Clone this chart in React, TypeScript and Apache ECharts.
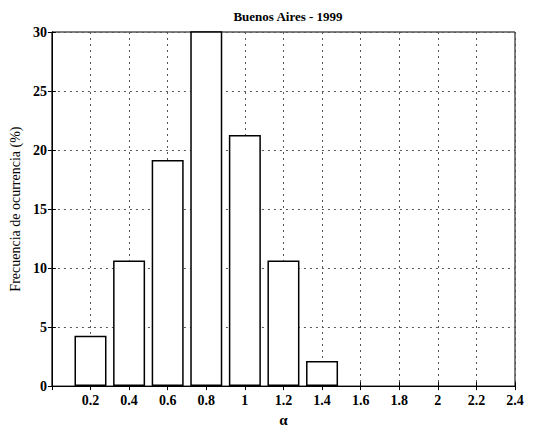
import React, { useEffect, useRef } from "react";
import * as echarts from "echarts";

const titleText = "Buenos Aires - 1999";
const yName = "Frecuencia de ocurrencia (%)";
const xName = "α";
const alphaCenters = [0.2, 0.4, 0.6, 0.8, 1.0, 1.2, 1.4];
const frequencies = [4.26, 10.64, 19.15, 31.91, 21.28, 10.64, 2.13];

const FONT = "Liberation Serif";

export default function App() {
  const ref = useRef<HTMLDivElement>(null);
  useEffect(() => {
    document.body.style.margin = "0";
    if (!ref.current) return;
    const chart = echarts.init(ref.current, undefined, { renderer: "svg" });
    const gridLine = { show: true, lineStyle: { color: "#555", type: [2, 4] as any, width: 1 } };
    const labelStyle = { color: "#000", fontFamily: FONT, fontSize: 14, fontWeight: "bold" as const };
    chart.setOption({
      animation: false,
      backgroundColor: "#fff",
      title: {
        text: titleText,
        left: 283,
        textAlign: "center",
        top: 5,
        textStyle: { fontFamily: FONT, fontSize: 13, fontWeight: "bold", color: "#000" },
      },
      grid: {
        left: 48,
        right: 19,
        top: 32,
        bottom: 38,
        show: true,
        borderColor: "#000",
        borderWidth: 1,
        backgroundColor: "transparent",
      },
      xAxis: [
        {
          type: "value",
          min: 0,
          max: 2.4,
          interval: 0.2,
          name: xName,
          nameLocation: "middle",
          nameGap: 23,
          nameTextStyle: { ...labelStyle, fontSize: 15 },
          axisLine: { show: true, onZero: false, lineStyle: { color: "#000" } },
          axisTick: { show: true, inside: true, length: 4, lineStyle: { color: "#000" } },
          axisLabel: {
            ...labelStyle,
            margin: 7,
            formatter: (v: number) => (v === 0 ? "" : String(Number(v.toFixed(1)))),
          },
          splitLine: gridLine,
        },
        {
          type: "value",
          position: "top",
          min: 0,
          max: 2.4,
          interval: 0.2,
          axisLine: { show: true, lineStyle: { color: "#000" } },
          axisTick: { show: true, inside: true, length: 4, lineStyle: { color: "#000" } },
          axisLabel: { show: false },
          splitLine: { show: false },
        },
      ],
      yAxis: [
        {
          type: "value",
          min: 0,
          max: 30,
          interval: 5,
          name: yName,
          nameLocation: "middle",
          nameGap: 29,
          nameTextStyle: { color: "#000", fontFamily: FONT, fontSize: 14 },
          axisLine: { show: true, lineStyle: { color: "#000" } },
          axisTick: { show: true, inside: true, length: 4, lineStyle: { color: "#000" } },
          axisLabel: { ...labelStyle, margin: 5 },
          splitLine: gridLine,
        },
        {
          type: "value",
          position: "right",
          min: 0,
          max: 30,
          interval: 5,
          axisLine: { show: true, lineStyle: { color: "#000" } },
          axisTick: { show: true, inside: true, length: 4, lineStyle: { color: "#000" } },
          axisLabel: { show: false },
          splitLine: { show: false },
        },
      ],
      series: [
        {
          type: "bar",
          xAxisIndex: 0,
          yAxisIndex: 0,
          barWidth: 32,
          clip: true,
          data: alphaCenters.map((a, i) => [a, frequencies[i]]),
          itemStyle: { color: "#fff", borderColor: "#000", borderWidth: 1.5 },
        },
      ],
    });
    return () => chart.dispose();
  }, []);
  return <div ref={ref} style={{ width: 534, height: 432 }} />;
}
